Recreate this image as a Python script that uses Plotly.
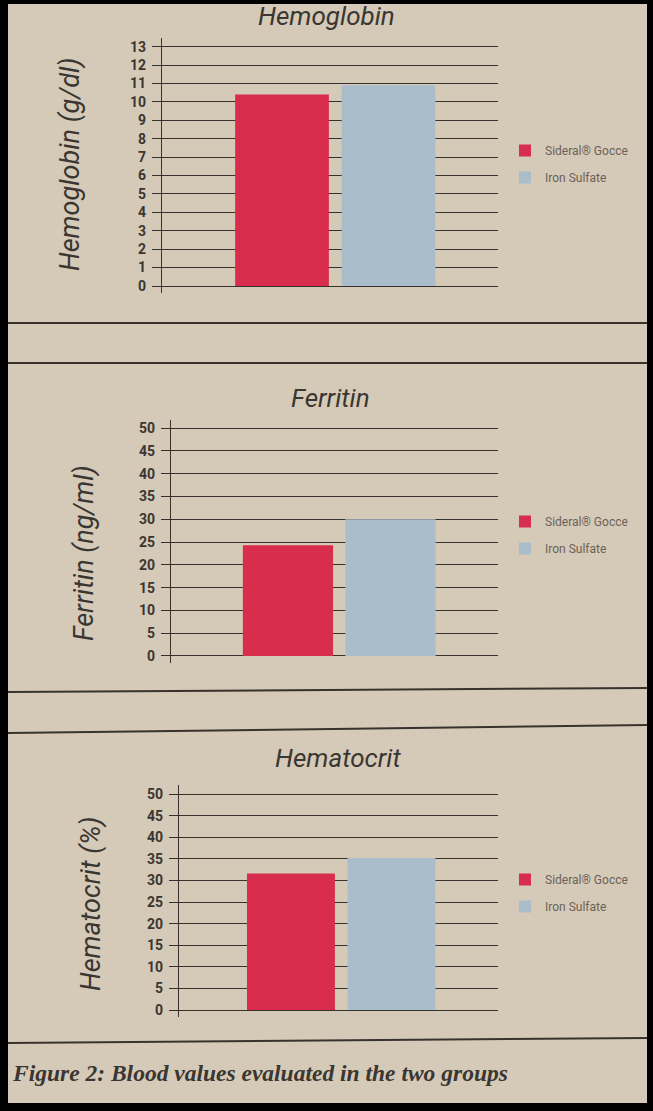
import plotly.graph_objects as go

# ---- data -------------------------------------------------------------
groups = ["Sideral® Gocce", "Iron Sulfate"]
colors = ["#d92d4d", "#a9bdcb"]

panel_titles = ["Hemoglobin", "Ferritin", "Hematocrit"]
axis_titles = ["Hemoglobin (g/dl)", "Ferritin (ng/ml)", "Hematocrit (%)"]

hemoglobin = [10.4, 10.9]
ferritin = [24.3, 30.0]
hematocrit = [31.6, 35.2]
values = [hemoglobin, ferritin, hematocrit]

tick_steps = [1, 5, 5]

caption = "Figure 2: Blood values evaluated in the two groups"

# ---- page geometry (pixels) ------------------------------------------
W, H = 653, 1111
PAPER = "#d5cab8"
INK = "#36322d"
SANS = "Roboto, Liberation Sans, sans-serif"


def fx(x):
    return x / W


def fy(y):
    return 1 - y / H


# per panel: x domain (px), y domain (px, top/bottom), y range, x range
panels = [
    dict(xd=(162, 498), yd=(38, 293), yr=(-0.38, 13.47), xr=(-1.127, 2.028), bw=0.88,
         title_y=16, title_x=327, atitle=(70, 165), leg=(505, 164)),
    dict(xd=(171, 498), yd=(420, 663), yr=(-1.54, 51.8), xr=(-1.141, 2.049), bw=0.88,
         title_y=398, title_x=330, atitle=(84, 553), leg=(505, 535)),
    dict(xd=(179, 498), yd=(785, 1017), yr=(-1.62, 52.1), xr=(-1.114, 2.06), bw=0.875,
         title_y=758, title_x=338, atitle=(91, 904), leg=(505, 893)),
]

fig = go.Figure()
layout = dict(
    width=W, height=H,
    margin=dict(l=0, r=0, t=0, b=0),
    paper_bgcolor=PAPER, plot_bgcolor="rgba(0,0,0,0)",
    barmode="overlay", showlegend=True,
    annotations=[], shapes=[],
)

for i, p in enumerate(panels):
    sfx = "" if i == 0 else str(i + 1)
    leg = "legend" if i == 0 else f"legend{i + 1}"
    for j, g in enumerate(groups):
        fig.add_trace(go.Bar(
            x=[g], y=[values[i][j]], name=g,
            marker=dict(color=colors[j], line=dict(width=0)),
            width=p["bw"],
            xaxis="x" + sfx, yaxis="y" + sfx,
            legend=leg, legendgroup=f"{i}-{j}",
            hoverinfo="y",
        ))

    layout["xaxis" + sfx] = dict(
        domain=[fx(p["xd"][0]), fx(p["xd"][1])],
        anchor="y" + sfx, type="category",
        categoryorder="array", categoryarray=groups,
        range=list(p["xr"]), visible=False, fixedrange=True,
    )
    layout["yaxis" + sfx] = dict(
        domain=[fy(p["yd"][1]), fy(p["yd"][0])],
        anchor="x" + sfx, range=list(p["yr"]),
        tickmode="linear", tick0=0, dtick=tick_steps[i],
        showgrid=True, gridcolor=INK, gridwidth=1.4,
        zeroline=False,
        showline=True, linecolor=INK, linewidth=1.4,
        ticks="outside", ticklen=9, tickwidth=1.4, tickcolor=INK,
        ticklabelstandoff=3,
        tickfont=dict(family=SANS, size=14, color="#3a3631", weight="bold"),
        fixedrange=True,
    )
    layout[leg] = dict(
        x=fx(p["leg"][0]), y=fy(p["leg"][1]),
        xanchor="left", yanchor="middle",
        bgcolor="rgba(0,0,0,0)", borderwidth=0,
        traceorder="grouped", tracegroupgap=8,
        font=dict(family=SANS, size=12, color="#6a6259"),
    )
    layout["annotations"].append(dict(
        text=panel_titles[i], x=fx(p["title_x"]), y=fy(p["title_y"]),
        xref="paper", yref="paper", showarrow=False,
        xanchor="center", yanchor="middle",
        font=dict(family=SANS, size=26, color="#3a3631", style="italic"),
    ))
    layout["annotations"].append(dict(
        text=axis_titles[i], x=fx(p["atitle"][0]), y=fy(p["atitle"][1]),
        xref="paper", yref="paper", showarrow=False, textangle=-90,
        xanchor="center", yanchor="middle",
        font=dict(family=SANS, size=27, color="#3a3631", style="italic"),
    ))

# printed rule lines separating the panels
rules = [(323, 323), (363, 363), (692, 688), (733, 725), (1043, 1038)]
for yl, yr in rules:
    layout["shapes"].append(dict(
        type="line", xref="paper", yref="paper",
        x0=fx(8), x1=fx(647), y0=fy(yl), y1=fy(yr),
        line=dict(color=INK, width=2),
    ))

layout["annotations"].append(dict(
    text=caption, x=fx(10), y=fy(1073), xref="paper", yref="paper",
    showarrow=False, xanchor="left", yanchor="middle",
    font=dict(family="Liberation Serif, DejaVu Serif, serif", size=23.5,
              color="#3a3631", style="italic", weight="bold"),
))

# dark frame around the page
frame = [(0, 0, 8, H), (647, 0, W, H), (0, 0, W, 4), (0, 1103, W, H)]
for x0, y0, x1, y1 in frame:
    layout["shapes"].append(dict(
        type="rect", xref="paper", yref="paper", layer="above",
        x0=fx(x0), x1=fx(x1), y0=fy(y1), y1=fy(y0),
        fillcolor="#000000", line=dict(width=0),
    ))

fig.update_layout(**layout)
fig.write_html("out.html")
